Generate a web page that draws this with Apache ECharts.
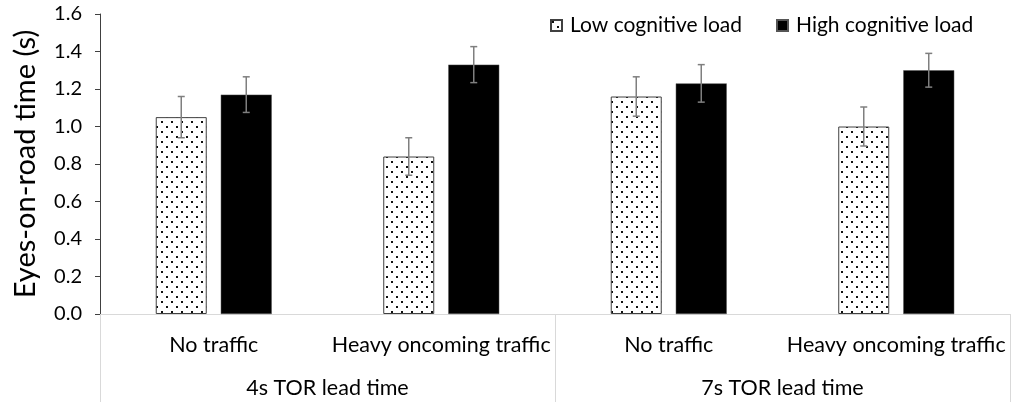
<!DOCTYPE html>
<html><head><meta charset="utf-8">
<script src="https://cdn.jsdelivr.net/npm/echarts@6/dist/echarts.min.js"></script>
<style>html,body{margin:0;padding:0;background:#fff}#c{width:1013px;height:402px}</style>
</head><body><div id="c"></div>
<script>
// ---- data ----
const subCategories = ['No traffic', 'Heavy oncoming traffic', 'No traffic', 'Heavy oncoming traffic'];
const groupCategories = ['4s TOR lead time', '7s TOR lead time'];
const seriesNames = ['Low cognitive load', 'High cognitive load'];
const lowValues = [1.05, 0.84, 1.16, 1.00];
const highValues = [1.17, 1.33, 1.23, 1.30];
const lowErrors = [0.11, 0.10, 0.105, 0.104];
const highErrors = [0.095, 0.096, 0.10, 0.09];
const yMin = 0, yMax = 1.6, yStep = 0.2;
const yTitle = 'Eyes-on-road time (s)';

// ---- styling ----
const FONT = 'Lato';
const BAR_W = 51, GAP_PX = 14;

function dotPattern() {
  const c = document.createElement('canvas');
  c.width = 10; c.height = 10;
  const g = c.getContext('2d');
  g.fillStyle = '#fff'; g.fillRect(0, 0, 10, 10);
  g.fillStyle = '#111';
  g.fillRect(1, 1, 2, 2);
  g.fillRect(6, 6, 2, 2);
  return c;
}
const pattern = { image: dotPattern(), repeat: 'repeat' };

function errRender(sign) {
  return function (params, api) {
    const x = api.value(0), v = api.value(1), e = api.value(2);
    const top = api.coord([x, v + e]);
    const bot = api.coord([x, v - e]);
    const off = sign * (BAR_W + GAP_PX) / 2;
    const cx = top[0] + off;
    const cap = 3.5;
    const style = { stroke: '#7f7f7f', lineWidth: 1.5 };
    return {
      type: 'group',
      children: [
        { type: 'line', shape: { x1: cx, y1: top[1], x2: cx, y2: bot[1] }, style },
        { type: 'line', shape: { x1: cx - cap, y1: top[1], x2: cx + cap, y2: top[1] }, style },
        { type: 'line', shape: { x1: cx - cap, y1: bot[1], x2: cx + cap, y2: bot[1] }, style }
      ]
    };
  };
}

const chart = echarts.init(document.getElementById('c'), null, { renderer: 'canvas' });
chart.setOption({
  animation: false,
  textStyle: { fontFamily: FONT },
  grid: { left: 100, right: 3, top: 14, bottom: 88, containLabel: false },
  legend: {
    data: seriesNames,
    left: 545, top: 10,
    itemWidth: 11, itemHeight: 11, itemGap: 34,
    icon: 'rect',
    textStyle: { fontFamily: FONT, fontSize: 21, color: '#000', padding: [0, 0, 0, 3] }
  },
  xAxis: [
    {
      type: 'category', data: subCategories, position: 'bottom',
      axisLine: { show: true, lineStyle: { color: '#d9d9d9', width: 1 } },
      axisTick: { show: false },
      axisLabel: { margin: 20, fontSize: 21.5, color: '#000', fontFamily: FONT, interval: 0 }
    },
    {
      type: 'category', data: groupCategories, position: 'bottom',
      axisLine: { show: false },
      axisTick: { show: true, length: 90, lineStyle: { color: '#d9d9d9', width: 1 } },
      axisLabel: { margin: 63, fontSize: 21.5, color: '#000', fontFamily: FONT, interval: 0 }
    }
  ],
  yAxis: {
    type: 'value', min: yMin, max: yMax, interval: yStep,
    name: yTitle, nameLocation: 'middle', nameGap: 60,
    nameTextStyle: { fontSize: 29, color: '#000', fontFamily: FONT },
    axisLine: { show: true, lineStyle: { color: '#404040', width: 1 } },
    axisTick: { show: true, length: 5, lineStyle: { color: '#404040' } },
    splitLine: { show: false },
    axisLabel: { fontSize: 20, color: '#000', margin: 18, fontFamily: FONT,
      formatter: v => v.toFixed(1) }
  },
  series: [
    {
      name: seriesNames[0], type: 'bar', xAxisIndex: 0, data: lowValues,
      barWidth: BAR_W, barGap: (GAP_PX / BAR_W * 100).toFixed(1) + '%',
      itemStyle: { color: pattern, borderColor: '#404040', borderWidth: 1 }
    },
    {
      name: seriesNames[1], type: 'bar', xAxisIndex: 0, data: highValues,
      barWidth: BAR_W,
      itemStyle: { color: '#000', borderColor: '#555', borderWidth: 0.5 }
    },
    {
      name: 'errLow', type: 'custom', xAxisIndex: 0, z: 10,
      renderItem: errRender(-1),
      data: lowValues.map((v, i) => [i, v, lowErrors[i]])
    },
    {
      name: 'errHigh', type: 'custom', xAxisIndex: 0, z: 10,
      renderItem: errRender(1),
      data: highValues.map((v, i) => [i, v, highErrors[i]])
    }
  ]
});
</script>
</body></html>
